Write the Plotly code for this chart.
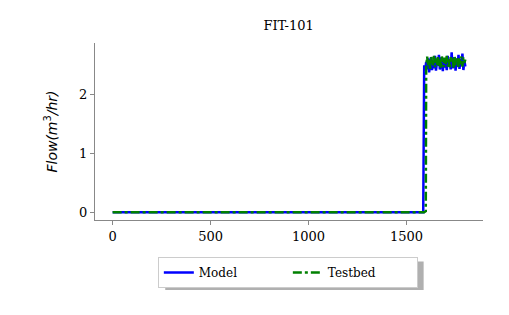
import plotly.graph_objects as go

# Time axis (s)
t_flat = [0, 100, 200, 300, 400, 500, 600, 700, 800, 900, 1000, 1100, 1200, 1300, 1400, 1500, 1585]
t_high = [1590, 1595, 1600, 1605, 1610, 1615, 1620, 1625, 1630, 1635, 1640, 1645, 1650, 1655,
          1660, 1665, 1670, 1675, 1680, 1685, 1690, 1695, 1700, 1705, 1710, 1715, 1720, 1725,
          1730, 1735, 1740, 1745, 1750, 1755, 1760, 1765, 1770, 1775, 1780, 1785, 1790, 1795, 1800]
model_high = [2.50, 2.40, 2.56, 2.43, 2.62, 2.38, 2.52, 2.64, 2.42, 2.58, 2.45, 2.66, 2.41, 2.56,
              2.50, 2.68, 2.43, 2.55, 2.64, 2.40, 2.62, 2.46, 2.58, 2.42, 2.66, 2.48, 2.60, 2.43,
              2.72, 2.45, 2.55, 2.64, 2.41, 2.62, 2.48, 2.68, 2.44, 2.60, 2.50, 2.70, 2.42, 2.58, 2.48]
test_high = [2.55, 2.62, 2.47, 2.65, 2.50, 2.60, 2.44, 2.64, 2.55, 2.48, 2.66, 2.47, 2.62, 2.50,
             2.64, 2.48, 2.60, 2.45, 2.65, 2.54, 2.47, 2.63, 2.52, 2.66, 2.48, 2.60, 2.45, 2.64,
             2.54, 2.62, 2.46, 2.65, 2.50, 2.58, 2.64, 2.47, 2.62, 2.52, 2.65, 2.48, 2.63, 2.54, 2.60]

x_model = t_flat + t_high
y_model = [0] * len(t_flat) + model_high
x_test = t_flat + [1590, 1598] + t_high[2:]
y_test = [0] * len(t_flat) + [0, 0.02] + test_high[2:]

fig = go.Figure()
fig.add_trace(go.Scatter(x=x_model, y=y_model, mode="lines", name="Model",
                         line=dict(color="#0000ff", width=2.5)))
fig.add_trace(go.Scatter(x=x_test, y=y_test, mode="lines", name="Testbed",
                         line=dict(color="#008000", width=2.5, dash="dashdot")))

serif = "DejaVu Serif"
# legend shadow
fig.add_shape(type="rect", xref="paper", yref="paper", x0=0.181, x1=0.847, y0=-0.395, y1=-0.235,
              fillcolor="#b0b0b0", line=dict(width=0), layer="below")

fig.update_layout(
    width=509, height=315,
    margin=dict(l=95, r=26, t=43, b=95),
    plot_bgcolor="white", paper_bgcolor="white",
    title=dict(text="FIT-101", x=0.567, xanchor="center", y=0.92, yanchor="middle",
               font=dict(family=serif, size=13, color="black")),
    font=dict(family=serif, size=13, color="black"),
    showlegend=True,
    legend=dict(orientation="h", x=0.497, xanchor="center", y=-0.209, yanchor="top",
                bgcolor="white", bordercolor="#cccccc", borderwidth=1,
                font=dict(family=serif, size=12), entrywidth=84, tracegroupgap=0),
    xaxis=dict(range=[-90, 1890], tickvals=[0, 500, 1000, 1500], showgrid=False, zeroline=False,
               showline=True, linecolor="#888888", linewidth=1, ticks="outside",
               tickcolor="#888888", ticklen=4, tickfont=dict(family=serif, size=13)),
    yaxis=dict(range=[-0.13, 2.88], tickvals=[0, 1, 2], showgrid=False, zeroline=False,
               showline=True, linecolor="#888888", linewidth=1, ticks="outside",
               tickcolor="#888888", ticklen=4, tickfont=dict(family=serif, size=13),
               title=dict(text="<i>Flow(m</i><sup>3</sup><i>/hr)</i>", standoff=18,
                          font=dict(family="DejaVu Sans", size=14))),
)
fig.write_html("out.html")
